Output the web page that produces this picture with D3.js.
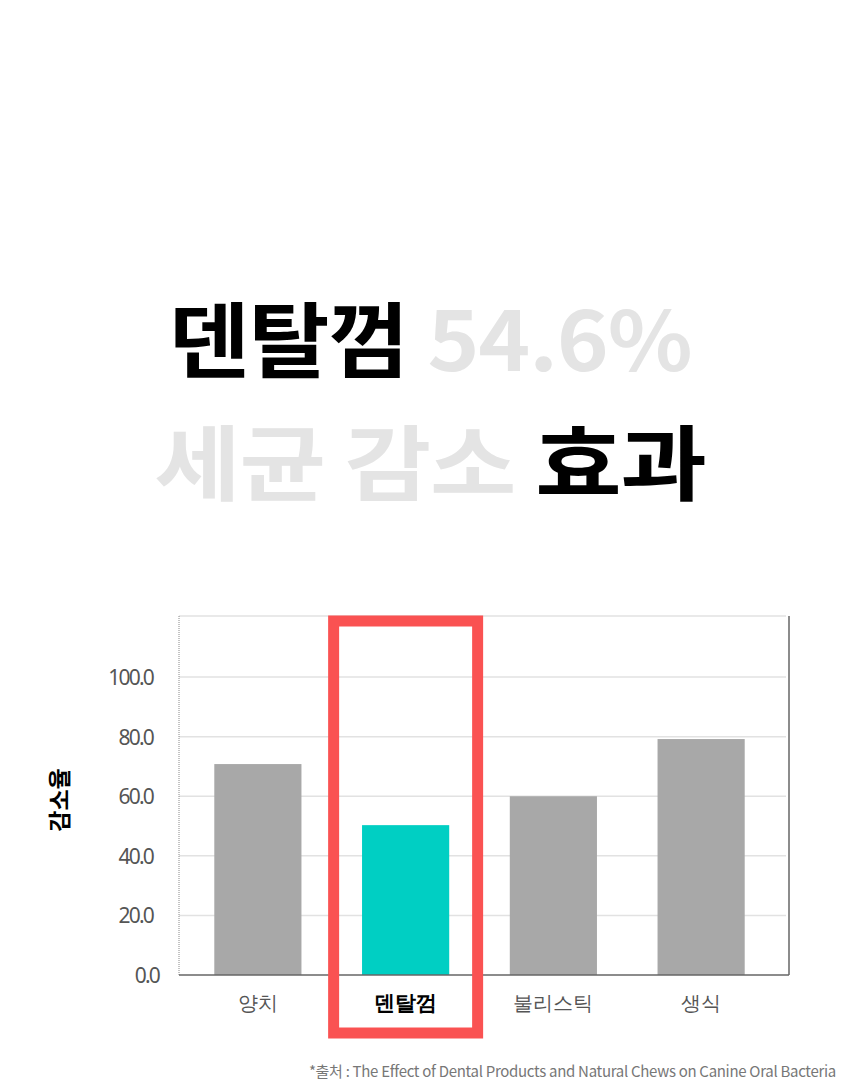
<!DOCTYPE html>
<html>
<head>
<meta charset="utf-8">
<script src="https://cdn.jsdelivr.net/npm/d3@7"></script>
<style>
  body { margin: 0; background: #fff; }
  svg { display: block; font-family: "Noto Sans CJK KR", "Noto Sans", sans-serif; }
</style>
</head>
<body>
<svg id="chart"></svg>
<script>
// chart data
const categories = ['양치', '덴탈껌', '불리스틱', '생식'];
const reduction = [70.8, 50.3, 60.0, 79.2];
const yTicks = [0, 20, 40, 60, 80, 100];
const highlight = '덴탈껌';

const titleLine1 = [{t: '덴탈껌 ', dark: true}, {t: '54.6%', dark: false}];
const titleLine2 = [{t: '세균 감소 ', dark: false}, {t: '효과', dark: true}];
const sourceText = '*출처 : The Effect of Dental Products and Natural Chews on Canine Oral Bacteria';

const width = 860, height = 1081;
const frame = {left: 179, right: 789, top: 616, bottom: 975};

const svg = d3.select('#chart')
    .attr('width', width)
    .attr('height', height);

// title, stretched a bit horizontally to match the wide headline face
function titleLine(parts, y, sx) {
  const t = svg.append('text')
      .attr('transform', `translate(430,${y}) scale(${sx},1)`)
      .attr('text-anchor', 'middle')
      .style('font-size', '82px')
      .style('font-weight', 700)
      .style('letter-spacing', '-1px');
  t.selectAll('tspan')
    .data(parts)
    .join('tspan')
      .attr('fill', d => d.dark ? '#000' : '#e4e4e4')
      .text(d => d.t);
}
titleLine(titleLine1, 371, 1.075);
titleLine(titleLine2, 494, 1.145);

// scales
const yScale = d3.scaleLinear()
    .domain([0, 120.5])
    .range([frame.bottom, frame.top]);

const xScale = d3.scaleBand()
    .domain(categories)
    .range([184, 775])
    .paddingInner(0.41)
    .paddingOuter(0.205);

const chart = svg.append('g');

// grid lines
chart.selectAll('.grid')
    .data(yTicks.filter(d => d > 0).concat([120.5]))
  .join('line')
    .attr('class', 'grid')
    .attr('x1', frame.left)
    .attr('x2', frame.right - 3)
    .attr('y1', d => yScale(d))
    .attr('y2', d => yScale(d))
    .attr('stroke', '#e2e2e2')
    .attr('stroke-width', 1.5);

// bars
chart.selectAll('.bar')
    .data(categories)
  .join('rect')
    .attr('class', 'bar')
    .attr('x', d => xScale(d))
    .attr('width', xScale.bandwidth())
    .attr('y', (d, i) => yScale(reduction[i]))
    .attr('height', (d, i) => frame.bottom - yScale(reduction[i]))
    .attr('fill', d => d === highlight ? '#00cfc3' : '#a8a8a8');

// frame
chart.append('line')
    .attr('x1', frame.left).attr('x2', frame.left)
    .attr('y1', frame.top).attr('y2', frame.bottom)
    .attr('stroke', '#888').attr('stroke-width', 1)
    .attr('stroke-dasharray', '1,1');
chart.append('line')
    .attr('x1', frame.right).attr('x2', frame.right)
    .attr('y1', frame.top).attr('y2', frame.bottom)
    .attr('stroke', '#666').attr('stroke-width', 1.5);
chart.append('line')
    .attr('x1', frame.left).attr('x2', frame.right)
    .attr('y1', frame.bottom).attr('y2', frame.bottom)
    .attr('stroke', '#666').attr('stroke-width', 1.5);

// y axis
const yAxis = d3.axisLeft(yScale)
    .tickValues(yTicks)
    .tickSize(0)
    .tickPadding(0)
    .tickFormat(d3.format('.1f'));

const yAxisG = svg.append('g')
    .attr('transform', 'translate(153,0)')
    .call(yAxis);
yAxisG.select('.domain').remove();
yAxisG.selectAll('text')
    .attr('fill', '#555')
    .style('font-family', '"Noto Sans", sans-serif')
    .style('font-size', '21px')
    .style('letter-spacing', '-1.8px')
    .attr('dy', '0.35em')
    .attr('dx', d => d === 0 ? 6 : 0);

// y label
svg.append('text')
    .attr('transform', 'translate(68,800) rotate(-90)')
    .attr('text-anchor', 'middle')
    .style('font-size', '23px')
    .style('font-weight', 700)
    .attr('fill', '#000')
    .text('감소율');

// x axis
const xAxis = d3.axisBottom(xScale).tickSize(0).tickPadding(0);
const xAxisG = svg.append('g')
    .attr('transform', `translate(0,${frame.bottom})`)
    .call(xAxis);
xAxisG.select('.domain').remove();
xAxisG.selectAll('text')
    .attr('y', 35)
    .attr('dy', 0)
    .style('font-size', d => d === highlight ? '21px' : '20px')
    .style('font-weight', d => d === highlight ? 700 : 500)
    .attr('fill', d => d === highlight ? '#000' : '#555');

// highlight box
const hx = xScale(highlight) + xScale.bandwidth() / 2;
svg.append('rect')
    .attr('x', hx - 72)
    .attr('y', 621)
    .attr('width', 144)
    .attr('height', 412)
    .attr('fill', 'none')
    .attr('stroke', '#fa5252')
    .attr('stroke-width', 11);

// source
svg.append('text')
    .attr('x', 836)
    .attr('y', 1077)
    .attr('text-anchor', 'end')
    .attr('fill', '#777')
    .style('font-size', '15px')
    .style('letter-spacing', '-0.3px')
    .text(sourceText);
</script>
</body>
</html>
